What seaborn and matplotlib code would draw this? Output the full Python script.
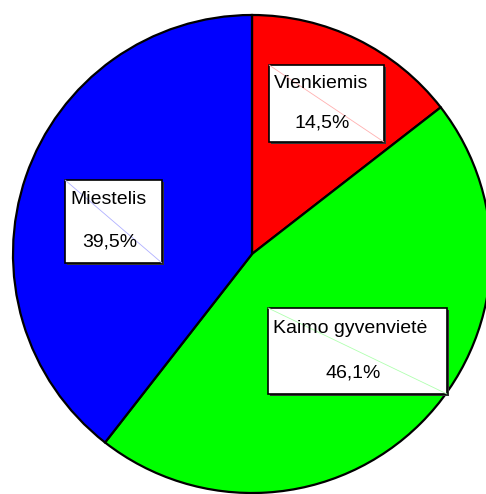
import matplotlib
matplotlib.use("Agg")
import matplotlib.pyplot as plt
from matplotlib.patches import Rectangle
import seaborn as sns

# Settlement type shares (%)
categories = ["Vienkiemis", "Kaimo gyvenvietė", "Miestelis"]
shares = [14.5, 46.1, 39.5]
share_labels = ["14,5%", "46,1%", "39,5%"]
colors = ["#ff0000", "#00ff00", "#0000ff"]

sns.set_theme(style="white")
plt.rcParams["font.family"] = ["Liberation Sans", "DejaVu Sans"]

W, H = 486, 494
fig = plt.figure(figsize=(W / 100, H / 100), dpi=100)
ax = fig.add_axes([0, 0, 1, 1])

# work in pixel-sized units with the pie centre at the origin
cx, cy, r = 252, 254, 239

wedges, _ = ax.pie(shares, colors=colors, startangle=90, counterclock=False,
                   radius=r, center=(0, 0), frame=True,
                   wedgeprops=dict(edgecolor="black", linewidth=1.6))
ax.set_xlim(-cx, W - cx)
ax.set_ylim(-(H - cy), cy)
ax.set_aspect("equal")
ax.axis("off")

# label boxes (left, top, right, bottom in pixels)
boxes = {
    "Vienkiemis": (269, 65, 384, 142),
    "Kaimo gyvenvietė": (268, 308, 447, 394),
    "Miestelis": (65, 180, 162, 263),
}
pale = {"Vienkiemis": "#ffb0b0", "Kaimo gyvenvietė": "#b0ffb0", "Miestelis": "#b0b0ff"}

for name, lab in zip(categories, share_labels):
    x0, y0, x1, y1 = boxes[name]
    left, right = x0 - cx, x1 - cx
    top, bottom = cy - y0, cy - y1
    ax.add_patch(Rectangle((left + 2, bottom - 2), right - left, top - bottom,
                           facecolor="#333333", edgecolor="none", zorder=5))
    ax.add_patch(Rectangle((left, bottom), right - left, top - bottom,
                           facecolor="white", edgecolor="black", linewidth=1.2, zorder=6))
    ax.plot([left, right], [top, bottom], color=pale[name], linewidth=0.6, zorder=6.5)
    h = top - bottom
    ax.text(left + 5, top - h * 0.24, name, ha="left", va="center",
            fontsize=14, color="black", zorder=7)
    ax.text((left + right) / 2 - 4, top - h * 0.75, lab, ha="center", va="center",
            fontsize=14, color="black", zorder=7)

fig.savefig("out.png", dpi=100, facecolor="white")
